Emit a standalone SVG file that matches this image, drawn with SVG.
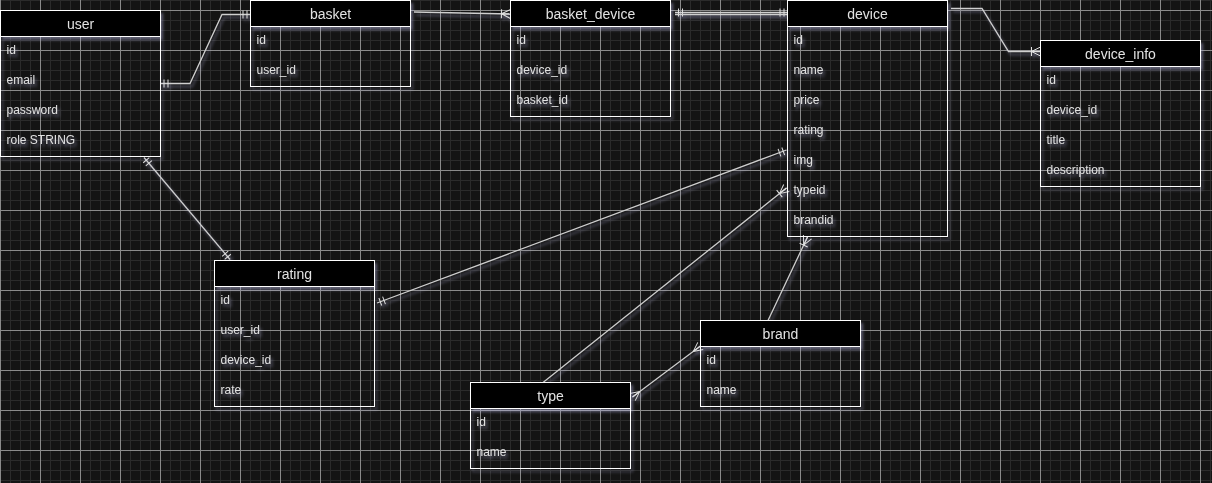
<svg xmlns="http://www.w3.org/2000/svg" width="1212" height="483" viewBox="0 0 1212 483">
<style>
.hdr{fill:#000;stroke:#fff;stroke-width:1}
.box{fill:none;stroke:#fff;stroke-width:1}
.t{font-family:"Liberation Sans",Arial,sans-serif;font-size:14px;fill:#e2e2e2;text-anchor:middle}
.r{font-family:"Liberation Sans",Arial,sans-serif;font-size:12px;fill:#e2e2e2}
.c{fill:none;stroke:#cfcfcf;stroke-width:1.3}
.m{fill:none;stroke:#e0e0e0;stroke-width:1}
</style>
<defs>
<pattern id="minor" width="10" height="10" patternUnits="userSpaceOnUse">
<path d="M0.5,0 V10 M0,0.5 H10" stroke="#2b2b2b" stroke-width="1" fill="none"/>
</pattern>
<pattern id="major" x="0" y="10" width="40" height="40" patternUnits="userSpaceOnUse">
<path d="M0.5,0 V40 M0,0.5 H40" stroke="#8a8a8a" stroke-width="1" fill="none"/>
</pattern>
<filter id="glow" x="-10%" y="-10%" width="120%" height="130%">
<feGaussianBlur in="SourceAlpha" stdDeviation="1.6"/>
<feOffset dx="2" dy="3" result="b"/>
<feFlood flood-color="#b4b4e0" flood-opacity="0.45"/>
<feComposite in2="b" operator="in"/>
<feMerge><feMergeNode/><feMergeNode in="SourceGraphic"/></feMerge>
</filter>
<marker id="one" markerUnits="userSpaceOnUse" orient="auto-start-reverse" refX="0" refY="0" markerWidth="20" markerHeight="20" viewBox="-10 -10 20 20" overflow="visible">
<path class="m" d="M-3.5,-4 V4 M-7.5,-4 V4"/>
</marker>
<marker id="oneMany" markerUnits="userSpaceOnUse" orient="auto-start-reverse" refX="0" refY="0" markerWidth="20" markerHeight="20" viewBox="-10 -10 20 20" overflow="visible">
<path class="m" d="M-9,0 L0,-4.5 M-9,0 L0,0 M-9,0 L0,4.5 M-9,-4.5 V4.5"/>
</marker>
<marker id="many" markerUnits="userSpaceOnUse" orient="auto-start-reverse" refX="0" refY="0" markerWidth="20" markerHeight="20" viewBox="-10 -10 20 20" overflow="visible">
<path class="m" d="M-9,0 L0,-4.5 M-9,0 L0,0 M-9,0 L0,4.5"/>
</marker>
</defs>
<rect x="0" y="0" width="1212" height="483" fill="#141414"/>
<rect x="0" y="0" width="1212" height="483" fill="url(#minor)"/>
<rect x="0" y="0" width="1212" height="483" fill="url(#major)"/>

<g id="connectors" filter="url(#glow)">
<path class="c" d="M160.5,83.5 H190 L222,14.5 H250.5" marker-start="url(#one)" marker-end="url(#one)"/>
<path class="c" d="M414,12 L510.5,14" marker-end="url(#oneMany)"/>
<path class="c" d="M675,12.5 L787.5,12.5" marker-start="url(#one)" marker-end="url(#one)"/>
<path class="c" d="M675,14.5 L787.5,14.5"/>
<path class="c" d="M951,8.5 H982 L1008.5,51.5 H1040.5" marker-end="url(#oneMany)"/>
<path class="c" d="M144,157.5 L230,259.5" marker-start="url(#one)" marker-end="url(#one)"/>
<path class="c" d="M377,303 L786.5,150" marker-start="url(#one)" marker-end="url(#one)"/>
<path class="c" d="M543,382.5 L786.5,188" marker-end="url(#oneMany)"/>
<path class="c" d="M768,320.5 L807.5,237" marker-end="url(#oneMany)"/>
<path class="c" d="M632.5,397 L700.5,346" marker-start="url(#many)" marker-end="url(#many)"/>
</g>

<g id="user" filter="url(#glow)">
<rect class="box" x="0.5" y="10.5" width="160" height="146"/>
<rect class="hdr" x="0.5" y="10.5" width="160" height="26"/>
<text class="t" x="80.5" y="28.5">user</text>
<text class="r" x="6.5" y="54">id</text>
<text class="r" x="6.5" y="84">email</text>
<text class="r" x="6.5" y="114">password</text>
<text class="r" x="6.5" y="144">role STRING</text>
</g>

<g id="basket" filter="url(#glow)">
<rect class="box" x="250.5" y="0.5" width="160" height="86"/>
<rect class="hdr" x="250.5" y="0.5" width="160" height="26"/>
<text class="t" x="330.5" y="18.5">basket</text>
<text class="r" x="256.5" y="44">id</text>
<text class="r" x="256.5" y="74">user_id</text>
</g>

<g id="basket_device" filter="url(#glow)">
<rect class="box" x="510.5" y="0.5" width="160" height="116"/>
<rect class="hdr" x="510.5" y="0.5" width="160" height="26"/>
<text class="t" x="590.5" y="18.5">basket_device</text>
<text class="r" x="516.5" y="44">id</text>
<text class="r" x="516.5" y="74">device_id</text>
<text class="r" x="516.5" y="104">basket_id</text>
</g>

<g id="device" filter="url(#glow)">
<rect class="box" x="787.5" y="0.5" width="160" height="236"/>
<rect class="hdr" x="787.5" y="0.5" width="160" height="26"/>
<text class="t" x="867.5" y="18.5">device</text>
<text class="r" x="793.5" y="44">id</text>
<text class="r" x="793.5" y="74">name</text>
<text class="r" x="793.5" y="104">price</text>
<text class="r" x="793.5" y="134">rating</text>
<text class="r" x="793.5" y="164">img</text>
<text class="r" x="793.5" y="194">typeid</text>
<text class="r" x="793.5" y="224">brandid</text>
</g>

<g id="device_info" filter="url(#glow)">
<rect class="box" x="1040.5" y="40.5" width="160" height="146"/>
<rect class="hdr" x="1040.5" y="40.5" width="160" height="26"/>
<text class="t" x="1120.5" y="58.5">device_info</text>
<text class="r" x="1046.5" y="84">id</text>
<text class="r" x="1046.5" y="114">device_id</text>
<text class="r" x="1046.5" y="144">title</text>
<text class="r" x="1046.5" y="174">description</text>
</g>

<g id="rating" filter="url(#glow)">
<rect class="box" x="214.5" y="260.5" width="160" height="146"/>
<rect class="hdr" x="214.5" y="260.5" width="160" height="26"/>
<text class="t" x="294.5" y="278.5">rating</text>
<text class="r" x="220.5" y="304">id</text>
<text class="r" x="220.5" y="334">user_id</text>
<text class="r" x="220.5" y="364">device_id</text>
<text class="r" x="220.5" y="394">rate</text>
</g>

<g id="type" filter="url(#glow)">
<rect class="box" x="470.5" y="382.5" width="160" height="86"/>
<rect class="hdr" x="470.5" y="382.5" width="160" height="26"/>
<text class="t" x="550.5" y="400.5">type</text>
<text class="r" x="476.5" y="426">id</text>
<text class="r" x="476.5" y="456">name</text>
</g>

<g id="brand" filter="url(#glow)">
<rect class="box" x="700.5" y="320.5" width="160" height="86"/>
<rect class="hdr" x="700.5" y="320.5" width="160" height="26"/>
<text class="t" x="780.5" y="338.5">brand</text>
<text class="r" x="706.5" y="364">id</text>
<text class="r" x="706.5" y="394">name</text>
</g>
</svg>
